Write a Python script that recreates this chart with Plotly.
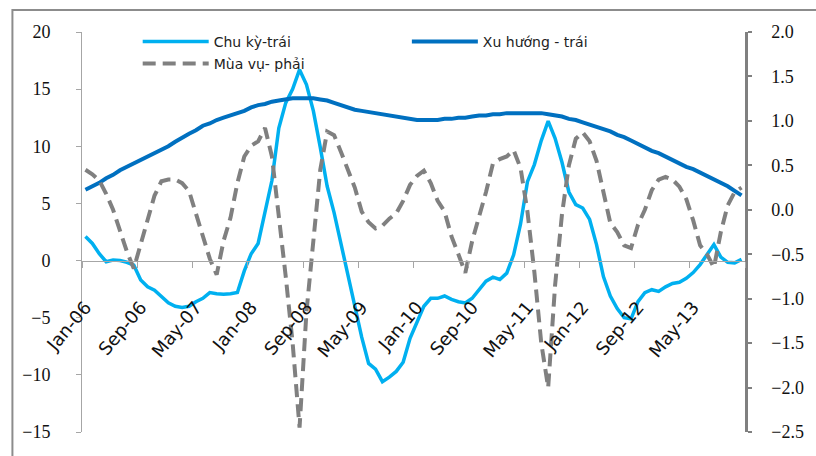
import pandas as pd
import plotly.graph_objects as go

# Monthly categories, Jan-06 .. Dec-13
months = pd.date_range("2006-01-01", "2013-12-01", freq="MS")
categories = [d.strftime("%b-%y") for d in months]

# Cyclical component (left axis)
chu_ky = [
    2.1, 1.5, 0.6, -0.1, 0.05, 0.0, -0.15, -0.4, -1.7, -2.3, -2.6, -3.2,
    -3.7, -4.0, -4.1, -4.0, -3.6, -3.3, -2.8, -2.9, -2.95, -2.9, -2.8, -0.9,
    0.6, 1.5, 4.1, 7.0, 11.6, 13.8, 15.0, 16.7, 15.4, 13.1, 9.9, 6.5,
    4.2, 1.4, -1.3, -4.0, -6.7, -9.0, -9.5, -10.6, -10.2, -9.7, -8.9, -6.8,
    -5.3, -4.0, -3.3, -3.3, -3.1, -3.4, -3.6, -3.7, -3.3, -2.6, -1.8, -1.45,
    -1.65, -1.1, 0.5, 3.2, 6.9, 8.4, 10.5, 12.2, 10.7, 8.6, 6.0, 4.9,
    4.6, 3.6, 1.4, -1.4, -3.1, -4.2, -5.0, -5.1, -3.6, -2.8, -2.55, -2.7,
    -2.3, -2.0, -1.9, -1.55, -1.05, -0.35, 0.5, 1.4, 0.3, -0.15, -0.2, 0.1,
]

# Trend component (left axis)
xu_huong = [
    6.2, 6.5, 6.8, 7.2, 7.5, 7.9, 8.2, 8.5, 8.8, 9.1, 9.4, 9.7,
    10.0, 10.4, 10.8, 11.1, 11.4, 11.8, 12.0, 12.3, 12.5, 12.7, 12.9, 13.1,
    13.4, 13.6, 13.7, 13.9, 14.0, 14.1, 14.2, 14.2, 14.2, 14.2, 14.1, 14.0,
    13.8, 13.6, 13.4, 13.2, 13.1, 13.0, 12.9, 12.8, 12.7, 12.6, 12.5, 12.4,
    12.3, 12.3, 12.3, 12.3, 12.4, 12.4, 12.5, 12.5, 12.6, 12.7, 12.7, 12.8,
    12.8, 12.9, 12.9, 12.9, 12.9, 12.9, 12.9, 12.8, 12.7, 12.6, 12.4, 12.3,
    12.1, 11.9, 11.7, 11.5, 11.3, 11.0, 10.8, 10.5, 10.2, 9.9, 9.6, 9.4,
    9.1, 8.8, 8.5, 8.2, 8.0, 7.7, 7.4, 7.1, 6.8, 6.5, 6.1, 5.7,
]

# Seasonal component (right axis)
mua_vu = [
    0.45, 0.40, 0.33, 0.18, 0.0, -0.25, -0.47, -0.66, -0.38, -0.1, 0.16, 0.32,
    0.34, 0.34, 0.30, 0.21, -0.05, -0.3, -0.55, -0.73, -0.35, -0.09, 0.3, 0.6,
    0.72, 0.77, 0.92, 0.6, -0.05, -0.75, -1.5, -2.45, -1.15, -0.3, 0.45, 0.88,
    0.84, 0.65, 0.45, 0.25, -0.02, -0.14, -0.21, -0.18, -0.1, -0.04, 0.1, 0.28,
    0.38, 0.44, 0.3, 0.1, -0.02, -0.3, -0.5, -0.71, -0.35, -0.09, 0.2, 0.52,
    0.57, 0.6, 0.67, 0.47, -0.02, -0.7, -1.5, -2.0, -0.85, -0.05, 0.5, 0.8,
    0.87, 0.77, 0.55, 0.2, -0.15, -0.25, -0.4, -0.43, -0.17, 0.0, 0.22, 0.34,
    0.37, 0.34, 0.26, 0.12, -0.12, -0.4, -0.5, -0.65, -0.25, 0.05, 0.2, 0.25,
]

LIGHT_BLUE = "#00B0F0"
DARK_BLUE = "#0070C0"
GREY = "#808080"
AXIS_GREY = "#A6A6A6"

sans = "DejaVu Sans"
serif = "Liberation Serif"

fig = go.Figure()
fig.add_trace(go.Scatter(
    x=categories, y=chu_ky, name="Chu kỳ-trái", mode="lines",
    line=dict(color=LIGHT_BLUE, width=3.5), legend="legend",
))
fig.add_trace(go.Scatter(
    x=categories, y=xu_huong, name="Xu hướng - trái", mode="lines",
    line=dict(color=DARK_BLUE, width=4), legend="legend2",
))
fig.add_trace(go.Scatter(
    x=categories, y=mua_vu, name="Mùa vụ- phải", mode="lines",
    line=dict(color=GREY, width=4, dash="13px,7px"), yaxis="y2", legend="legend3",
))

legend_common = dict(
    bgcolor="rgba(0,0,0,0)", borderwidth=0, itemwidth=66,
    font=dict(family=sans, size=14, color="#222"),
    xanchor="left", yanchor="middle", tracegroupgap=0,
)

fig.update_layout(
    width=816, height=456,
    margin=dict(l=82, r=67, t=32, b=24),
    paper_bgcolor="white", plot_bgcolor="white",
    showlegend=True,
    legend=dict(x=0.084, y=0.975, **legend_common),
    legend2=dict(x=0.49, y=0.975, **legend_common),
    legend3=dict(x=0.084, y=0.92, **legend_common),
    xaxis=dict(
        type="category", categoryorder="array", categoryarray=categories,
        range=[-0.5, len(categories) - 0.5],
        tickmode="linear", tick0=0, dtick=8, tickson="boundaries",
        tickangle=-50, ticks="outside", ticklen=6, tickcolor=AXIS_GREY,
        showline=True, linecolor=AXIS_GREY, linewidth=1,
        showgrid=False, zeroline=False,
        anchor="free", position=15 / 35,
        tickfont=dict(family=sans, size=18, color="#111"),
        ticklabelstandoff=28,
    ),
    yaxis=dict(
        range=[-15, 20], dtick=5, tick0=0,
        ticks="outside", ticklen=5, tickcolor=AXIS_GREY,
        showline=True, linecolor=AXIS_GREY, linewidth=1,
        showgrid=False, zeroline=False,
        tickfont=dict(family=serif, size=18, color="#111"),
        ticklabelstandoff=22,
    ),
    yaxis2=dict(
        range=[-2.5, 2.0], dtick=0.5, tick0=0, tickformat=".1f",
        overlaying="y", side="right",
        ticks="outside", ticklen=4, tickcolor=GREY, tickwidth=2,
        showline=True, linecolor=GREY, linewidth=2.5,
        showgrid=False, zeroline=False,
        tickfont=dict(family=serif, size=18, color="#111"),
        ticklabelstandoff=16,
    ),
    shapes=[dict(
        type="rect", xref="paper", yref="paper",
        x0=(12 - 82) / 667, x1=(830 - 82) / 667,
        y0=(432 - 470) / 400, y1=(432 - 10) / 400,
        line=dict(color="#8C8C8C", width=2), fillcolor="rgba(0,0,0,0)",
        layer="below",
    )],
)

fig.write_html("out.html")
